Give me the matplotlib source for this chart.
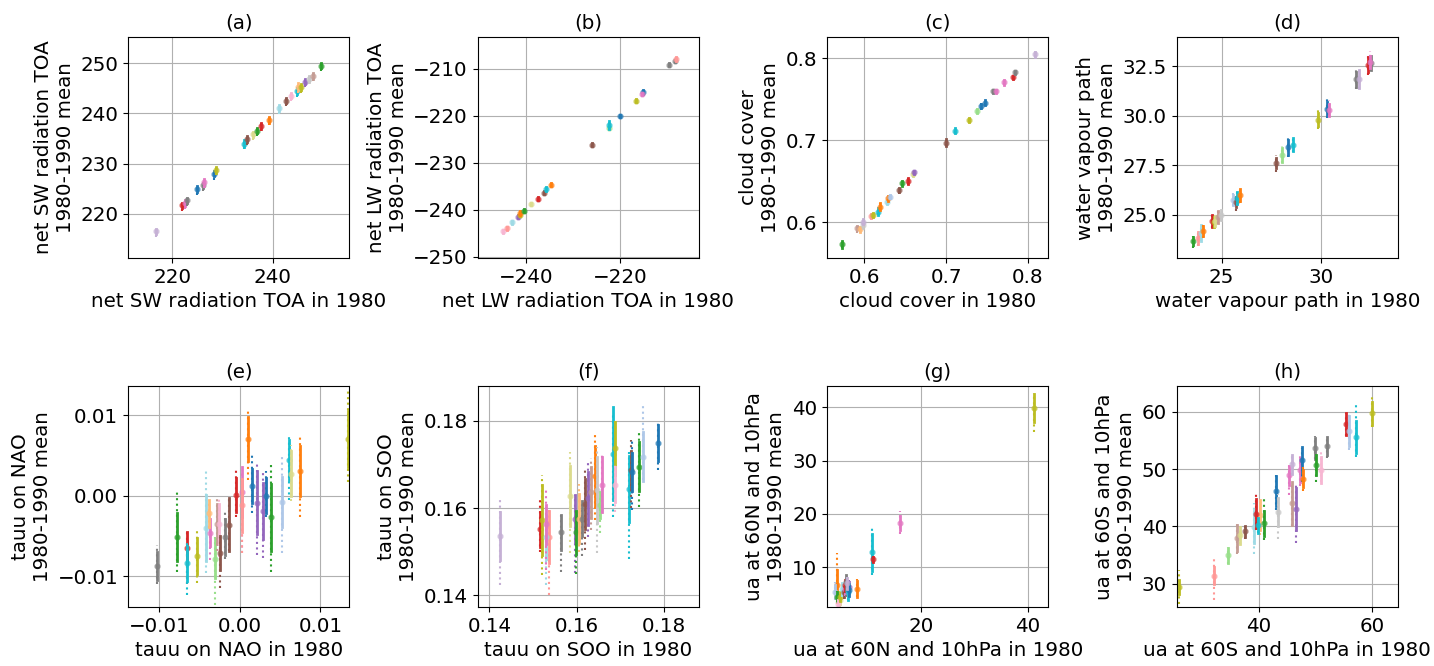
import matplotlib
matplotlib.use('Agg')
import matplotlib.pyplot as plt

plt.rcParams['font.size'] = 14.3
plt.rcParams['axes.titlesize'] = 14.3

# colour index into tab20 for every model point, per panel

# (a) net SW radiation TOA
a_col = [9, 6, 12, 14, 0, 14, 12, 0, 16, 18, 10, 17, 4, 6, 2, 19, 10, 13, 18, 3, 16, 8, 15, 11, 4]
a_x = [216.7, 222.0, 222.5, 222.9, 225.0, 226.1, 226.3, 228.3, 228.7, 234.2, 234.9, 236.0, 236.8,
       237.6, 239.3, 241.3, 242.6, 243.5, 244.7, 245.0, 245.5, 246.3, 247.1, 247.9, 249.6]
a_y = [216.5, 221.7, 222.1, 222.7, 224.9, 225.7, 226.3, 228.0, 228.8, 234.0, 234.9, 235.8, 236.5,
       237.5, 238.7, 241.0, 242.5, 243.5, 244.5, 245.3, 245.2, 246.3, 246.9, 247.5, 249.5]
a_sd = [0.5, 0.5, 0.6, 0.5, 0.6, 0.5, 0.7, 0.5, 0.6, 0.6, 0.6, 0.5, 0.5,
        0.6, 0.6, 0.6, 0.5, 0.5, 0.6, 0.7, 0.6, 0.5, 0.6, 0.6, 0.5]
a_lo = [215.4, 220.6, 221.0, 221.6, 223.7, 224.6, 225.1, 226.8, 227.7, 232.9, 233.8, 234.6, 235.4,
        236.4, 237.6, 239.8, 241.4, 242.4, 243.3, 244.1, 244.1, 245.2, 245.8, 246.4, 248.4]
a_hi = [217.2, 222.2, 222.7, 223.3, 225.5, 226.2, 226.9, 228.5, 229.4, 234.6, 235.4, 236.3, 237.0,
        238.1, 239.3, 241.6, 243.0, 244.0, 245.1, 245.9, 245.8, 246.8, 247.5, 248.1, 250.1]

# (b) net LW radiation TOA
b_col = [13, 7, 19, 8, 16, 2, 4, 17, 6, 10, 18, 2, 10, 5, 18, 0, 16, 0, 12, 14, 14, 7]
b_x = [-244.9, -244.1, -243.0, -241.8, -241.4, -241.2, -240.5, -238.9, -237.5, -236.3, -235.8,
       -234.8, -226.1, -222.5, -222.3, -220.1, -216.7, -215.1, -215.3, -209.6, -208.3, -208.1]
b_y = [-244.6, -244.0, -242.7, -241.5, -241.1, -240.8, -240.2, -238.8, -237.7, -236.4, -235.7,
       -234.7, -226.2, -222.6, -222.0, -220.1, -216.8, -215.0, -215.4, -209.2, -208.4, -207.9]
b_sd = [0.3, 0.3, 0.3, 0.3, 0.3, 0.4, 0.3, 0.3, 0.3, 0.3, 0.4,
        0.3, 0.3, 0.3, 0.9, 0.3, 0.3, 0.4, 0.3, 0.3, 0.3, 0.4]
b_lo = [-245.1, -244.5, -243.2, -242.0, -241.6, -241.3, -240.7, -239.3, -238.2, -236.9, -236.2,
        -235.2, -226.7, -223.1, -223.0, -220.6, -217.3, -215.5, -215.9, -209.7, -208.9, -208.4]
b_hi = [-244.2, -243.6, -242.3, -241.1, -240.7, -240.3, -239.8, -238.4, -237.3, -236.0, -235.2,
        -234.3, -225.8, -222.2, -221.0, -219.7, -216.4, -214.5, -215.0, -208.8, -208.0, -207.4]

# (c) cloud cover
c_col = [4, 11, 3, 15, 9, 7, 16, 18, 2, 19, 2, 1, 10, 4, 6, 17, 8, 10, 18, 16, 5, 0, 0, 14, 12,
         12, 6, 14, 9]
c_x = [0.5728, 0.5915, 0.5947, 0.5980, 0.5988, 0.6081, 0.6110, 0.6163, 0.6191, 0.6272, 0.6285,
       0.6313, 0.6427, 0.6463, 0.6533, 0.6598, 0.6610, 0.6996, 0.7106, 0.7280, 0.7378, 0.7423,
       0.7476, 0.7573, 0.7614, 0.7703, 0.7817, 0.7841, 0.8085]
c_y = [0.5732, 0.5935, 0.5915, 0.5967, 0.6008, 0.6077, 0.6090, 0.6130, 0.6191, 0.6244, 0.6293,
       0.6313, 0.6394, 0.6476, 0.6504, 0.6590, 0.6610, 0.6972, 0.7118, 0.7248, 0.7358, 0.7419,
       0.7459, 0.7598, 0.7598, 0.7707, 0.7768, 0.7829, 0.8049]
c_sd = [0.004, 0.002, 0.003, 0.003, 0.003, 0.002, 0.003, 0.004, 0.004, 0.002, 0.003,
        0.002, 0.002, 0.003, 0.004, 0.003, 0.002, 0.004, 0.003, 0.002, 0.002, 0.003,
        0.003, 0.002, 0.002, 0.003, 0.002, 0.002, 0.003]
c_lo = [0.5690, 0.5875, 0.5880, 0.5930, 0.5975, 0.6050, 0.6060, 0.6085, 0.6150, 0.6220, 0.6265,
        0.6290, 0.6350, 0.6440, 0.6460, 0.6550, 0.6585, 0.6935, 0.7085, 0.7225, 0.7335, 0.7375,
        0.7430, 0.7575, 0.7575, 0.7680, 0.7745, 0.7805, 0.8020]
c_hi = [0.5765, 0.5960, 0.5950, 0.6000, 0.6040, 0.6100, 0.6120, 0.6165, 0.6230, 0.6265, 0.6320,
        0.6335, 0.6420, 0.6505, 0.6545, 0.6625, 0.6630, 0.7010, 0.7150, 0.7285, 0.7380, 0.7450,
        0.7490, 0.7620, 0.7620, 0.7735, 0.7790, 0.7850, 0.8090]

# (d) water vapour path
d_col = [4, 7, 19, 2, 6, 16, 17, 11, 15, 1, 10, 18, 2, 10, 5, 0, 18, 16, 0, 12, 14, 9, 6, 14, 12]
d_x = [23.57, 23.82, 23.94, 24.07, 24.49, 24.61, 24.66, 24.83, 24.95, 25.59, 25.71, 25.79, 25.93,
       27.74, 28.05, 28.35, 28.57, 29.85, 30.30, 30.39, 31.73, 31.90, 32.36, 32.49, 32.46]
d_y = [23.71, 23.84, 24.09, 24.18, 24.68, 24.63, 24.70, 24.88, 24.98, 25.77, 25.64, 25.86, 25.99,
       27.62, 28.04, 28.41, 28.54, 29.80, 30.35, 30.30, 31.85, 31.85, 32.57, 32.65, 32.70]
d_sd = [0.20, 0.30, 0.38, 0.25, 0.30, 0.25, 0.25, 0.30, 0.25, 0.25, 0.25, 0.30, 0.30,
        0.25, 0.35, 0.38, 0.33, 0.33, 0.33, 0.30, 0.38, 0.45, 0.38, 0.35, 0.30]
d_lo = [23.34, 23.45, 23.70, 23.85, 24.35, 24.33, 24.40, 24.55, 24.70, 25.45, 25.20, 25.50, 25.60,
        27.15, 27.60, 27.90, 28.15, 29.35, 29.90, 29.95, 31.35, 31.35, 32.05, 32.25, 32.40]
d_hi = [23.95, 24.15, 24.45, 24.50, 25.00, 24.90, 24.98, 25.20, 25.25, 26.10, 25.90, 26.25, 26.40,
        28.00, 28.50, 28.95, 29.00, 30.28, 30.85, 30.80, 32.35, 32.40, 33.10, 33.05, 33.25]

# (e) tauu on NAO
e_col = [14, 4, 6, 18, 16, 19, 12, 3, 5, 11, 13, 10, 14, 10, 6, 12, 7, 2, 0, 8, 8, 0, 4, 1, 18, 17, 2, 16]
e_x = [-0.0103, -0.0078, -0.0066, -0.0066, -0.0053, -0.0042, -0.0037, -0.0038, -0.0031, -0.0029,
       -0.0026, -0.0025, -0.0019, -0.0013, -0.0005, 0.0003, 0.0003, 0.0010, 0.0015, 0.0021, 0.0029,
       0.0032, 0.0038, 0.0052, 0.0061, 0.0063, 0.0074, 0.0134]
e_y = [-0.0087, -0.0051, -0.0065, -0.0084, -0.0075, -0.0040, -0.0046, -0.0022, -0.0078, -0.0035,
       -0.0035, -0.0071, -0.0051, -0.0036, 0.0001, 0.0005, -0.0012, 0.0070, 0.0012, -0.0009, -0.0019,
       0.0000, -0.0027, -0.0008, 0.0044, 0.0027, 0.0030, 0.0070]
e_sd = [0.0017, 0.0030, 0.0020, 0.0022, 0.0022, 0.0041, 0.0017, 0.0017, 0.0024, 0.0025,
        0.0025, 0.0021, 0.0022, 0.0033, 0.0021, 0.0031, 0.0033, 0.0027, 0.0021, 0.0039, 0.0035,
        0.0022, 0.0042, 0.0031, 0.0025, 0.0028, 0.0031, 0.0035]
e_lo = [-0.0109, -0.0094, -0.0109, -0.0123, -0.0108, -0.0096, -0.0080, -0.0040, -0.0136, -0.0069,
        -0.0076, -0.0115, -0.0079, -0.0069, -0.0026, -0.0071, -0.0071, 0.0020, -0.0022, -0.0073,
        -0.0077, -0.0026, -0.0094, -0.0071, -0.0005, -0.0006, -0.0027, 0.0017]
e_hi = [-0.0061, 0.0007, -0.0044, -0.0059, -0.0041, 0.0032, -0.0025, -0.0005, -0.0051, -0.0004,
        -0.0004, -0.0051, -0.0019, -0.0001, 0.0032, 0.0032, 0.0023, 0.0105, 0.0051, 0.0041, 0.0030,
        0.0030, 0.0039, 0.0051, 0.0075, 0.0063, 0.0073, 0.0132]

# (f) tauu on SOO
f_col = [9, 6, 16, 7, 19, 12, 14, 17, 8, 4, 3, 14, 10, 8, 11, 2, 15, 5, 12, 18, 16, 13, 18, 10, 0, 4, 1, 0]
f_x = [0.1425, 0.1517, 0.1521, 0.1537, 0.1530, 0.1530, 0.1563, 0.1585, 0.1595, 0.1599, 0.1606,
       0.1612, 0.1618, 0.1627, 0.1633, 0.1642, 0.1647, 0.1653, 0.1657, 0.1684, 0.1687, 0.1687,
       0.1719, 0.1724, 0.1727, 0.1742, 0.1752, 0.1786]
f_y = [0.1536, 0.1551, 0.1573, 0.1534, 0.1534, 0.1563, 0.1544, 0.1627, 0.1576, 0.1544, 0.1576,
       0.1576, 0.1609, 0.1622, 0.1636, 0.1673, 0.1641, 0.1607, 0.1654, 0.1725, 0.1737, 0.1654,
       0.1643, 0.1687, 0.1682, 0.1695, 0.1718, 0.1749]
f_sd = [0.0055, 0.0040, 0.0080, 0.0059, 0.0050, 0.0045, 0.0040, 0.0069, 0.0053, 0.0050, 0.0057,
        0.0040, 0.0057, 0.0061, 0.0059, 0.0069, 0.0076, 0.0030, 0.0063, 0.0107, 0.0061, 0.0040,
        0.0076, 0.0044, 0.0044, 0.0057, 0.0057, 0.0042]
f_lo = [0.1424, 0.1500, 0.1447, 0.1401, 0.1424, 0.1458, 0.1454, 0.1496, 0.1450, 0.1449, 0.1500,
        0.1489, 0.1504, 0.1534, 0.1550, 0.1573, 0.1496, 0.1542, 0.1588, 0.1580, 0.1630, 0.1590,
        0.1482, 0.1599, 0.1595, 0.1603, 0.1664, 0.1687]
f_hi = [0.1622, 0.1626, 0.1676, 0.1600, 0.1580, 0.1645, 0.1584, 0.1729, 0.1630, 0.1595, 0.1656,
        0.1614, 0.1688, 0.1706, 0.1714, 0.1767, 0.1740, 0.1626, 0.1721, 0.1813, 0.1800, 0.1700,
        0.1729, 0.1756, 0.1756, 0.1775, 0.1840, 0.1798]

# (g) ua at 60N and 10hPa
g_col = [2, 1, 4, 17, 13, 16, 19, 10, 12, 6, 14, 8, 18, 0, 9, 2, 18, 6, 12, 16]
g_x = [4.2, 3.9, 4.3, 4.8, 4.5, 4.9, 5.3, 5.5, 5.7, 5.7, 6.0, 6.5, 6.4, 6.5, 6.2, 8.1, 10.9, 11.0,
       16.0, 41.1]
g_y = [6.7, 5.4, 4.5, 3.9, 3.2, 4.5, 6.0, 5.4, 5.9, 6.7, 7.3, 6.4, 5.4, 5.7, 7.0, 6.0, 12.8, 11.5,
       18.3, 39.9]
g_sd = [2.8, 1.2, 0.8, 0.8, 0.6, 0.9, 1.0, 1.0, 0.9, 1.0, 1.2, 0.9, 1.5, 1.1, 1.0, 1.5, 3.4, 0.5,
        1.3, 2.6]
g_lo = [3.2, 3.9, 3.4, 2.6, 2.6, 3.5, 4.5, 4.0, 4.6, 5.2, 4.5, 5.2, 3.8, 4.4, 5.7, 4.5, 8.6, 10.9,
        16.3, 35.4]
g_hi = [12.6, 7.3, 5.6, 5.0, 4.0, 5.6, 7.2, 6.6, 7.0, 8.0, 8.4, 7.6, 6.9, 7.0, 8.2, 7.9, 17.6, 12.2,
        20.5, 42.6]

# (h) ua at 60S and 10hPa
h_col = [16, 7, 5, 11, 17, 10, 19, 3, 6, 18, 4, 0, 15, 12, 11, 9, 8, 12, 0, 2, 14, 4, 13, 14, 6, 1,
         18, 16]
h_x = [26.0, 32.0, 34.5, 36.1, 36.6, 37.6, 39.2, 40.1, 39.5, 39.8, 40.9, 43.0, 43.3, 45.3, 45.8,
       45.9, 46.5, 47.2, 47.6, 47.7, 49.9, 50.1, 50.9, 52.0, 55.3, 55.8, 57.1, 59.9]
h_y = [29.4, 31.4, 34.9, 38.0, 38.4, 39.1, 39.9, 41.9, 42.2, 40.2, 40.5, 46.1, 42.5, 48.9, 44.0,
       50.8, 43.0, 49.8, 51.5, 48.3, 53.6, 50.7, 49.8, 54.0, 57.8, 56.6, 55.6, 59.7]
h_sd = [1.2, 1.5, 1.3, 2.3, 1.5, 1.0, 2.8, 2.6, 2.5, 1.3, 2.2, 2.6, 2.5, 1.7, 3.8, 1.7, 3.6, 2.0,
        2.3, 1.5, 1.9, 1.7, 2.3, 1.6, 1.9, 2.6, 2.8, 2.0]
h_lo = [26.5, 27.1, 33.4, 35.2, 36.9, 37.8, 35.2, 38.4, 39.3, 38.9, 37.6, 42.8, 37.8, 45.4, 40.1,
        49.0, 37.0, 47.0, 47.7, 46.2, 51.7, 47.7, 47.7, 52.0, 55.8, 53.3, 52.1, 57.4]
h_hi = [32.3, 34.6, 36.4, 40.8, 39.9, 40.1, 44.0, 44.5, 45.6, 41.5, 45.1, 48.9, 45.7, 50.7, 47.8,
        52.5, 47.5, 52.2, 53.6, 50.4, 55.7, 52.7, 53.0, 55.7, 59.7, 59.7, 61.4, 62.9]

titles = ['(a)', '(b)', '(c)', '(d)', '(e)', '(f)', '(g)', '(h)']
names = ['net SW radiation TOA', 'net LW radiation TOA', 'cloud cover', 'water vapour path',
         'tauu on NAO', 'tauu on SOO', 'ua at 60N and 10hPa', 'ua at 60S and 10hPa']

panels = [
    (a_col, a_x, a_y, a_sd, a_lo, a_hi, (211.2, 255.2), (211.2, 255.2)),
    (b_col, b_x, b_y, b_sd, b_lo, b_hi, (-250.3, -203.3), (-250.3, -203.3)),
    (c_col, c_x, c_y, c_sd, c_lo, c_hi, (0.5545, 0.825), (0.5565, 0.826)),
    (d_col, d_x, d_y, d_sd, d_lo, d_hi, (22.74, 33.85), (22.83, 33.97)),
    (e_col, e_x, e_y, e_sd, e_lo, e_hi, (-0.0139, 0.0136), (-0.0138, 0.0136)),
    (f_col, f_x, f_y, f_sd, f_lo, f_hi, (0.1373, 0.188), (0.1373, 0.188)),
    (g_col, g_x, g_y, g_sd, g_lo, g_hi, (2.43, 43.9), (2.56, 44.0)),
    (h_col, h_x, h_y, h_sd, h_lo, h_hi, (25.5, 64.5), (25.9, 64.5)),
]

cmap = plt.get_cmap('tab20')

fig, axes = plt.subplots(2, 4, figsize=(14.34, 6.66), dpi=100)
fig.subplots_adjust(left=0.0893, right=0.9749, bottom=0.0886, top=0.9444,
                    wspace=0.579, hspace=0.579)

for ax, title, name, (col, xs, ys, sds, los, his, xl, yl) in zip(axes.flat, titles, names, panels):
    for c, x, y, sd, lo, hi in zip(col, xs, ys, sds, los, his):
        colour = cmap(c)
        ax.plot([x, x], [lo, hi], ls=':', lw=1.5, color=colour)
        ax.plot([x, x], [y - sd, y + sd], lw=2, color=colour)
        ax.plot(x, y, '.', ms=7, color=colour, alpha=0.6)
    ax.set_xlim(xl)
    ax.set_ylim(yl)
    ax.set_title(title)
    ax.set_xlabel(name + ' in 1980')
    ax.set_ylabel(name + '\n1980-1990 mean')
    ax.grid(True)
    ax.set_axisbelow(True)

plt.savefig('out.png')
